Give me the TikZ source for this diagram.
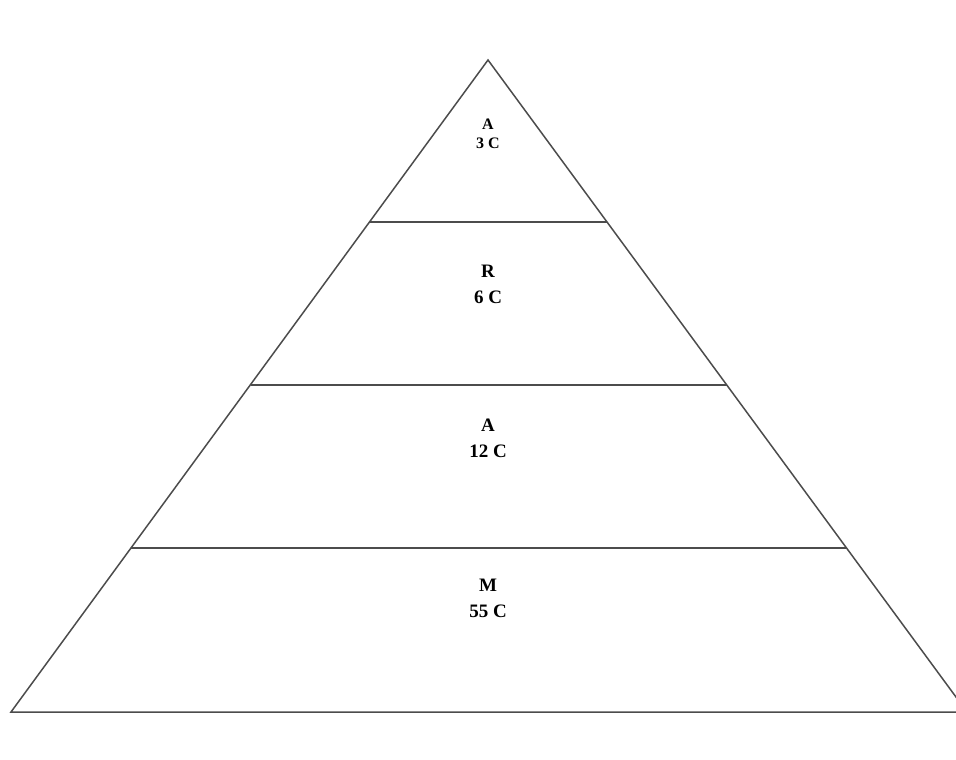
\documentclass[tikz,border=0pt]{standalone}
\usepackage{fontspec}
\setmainfont{Liberation Serif}
\begin{document}
\begin{tikzpicture}[x=1pt,y=-1pt,
  edge/.style={draw=black!70, line width=1.5pt, line join=miter},
  lbl/.style={align=center, font=\bfseries\fontsize{19}{26}\selectfont, inner sep=0pt},
  toplbl/.style={align=center, font=\bfseries\fontsize{16}{19}\selectfont, inner sep=0pt}]
\useasboundingbox (0,0) rectangle (956,760);
\clip (0,0) rectangle (956,760);
\coordinate (apex) at (488,60);
\coordinate (bl) at (11,712);
\coordinate (br) at (967,712);
\coordinate (l1) at (369.5,222); \coordinate (r1) at (607,222);
\coordinate (l2) at (250.5,385); \coordinate (r2) at (726.5,385);
\coordinate (l3) at (131,548);   \coordinate (r3) at (846,548);
\draw[edge] (apex) -- (bl) -- (br) -- cycle;
\draw[edge] (l1) -- (r1);
\draw[edge] (l2) -- (r2);
\draw[edge] (l3) -- (r3);
\node[toplbl] (t1) at (488,134) {A\\3 C};
\node[lbl] (t2) at (488,284) {R\\6 C};
\node[lbl] (t3) at (488,438) {A\\12 C};
\node[lbl] (t4) at (488,598) {M\\55 C};
\end{tikzpicture}
\end{document}
